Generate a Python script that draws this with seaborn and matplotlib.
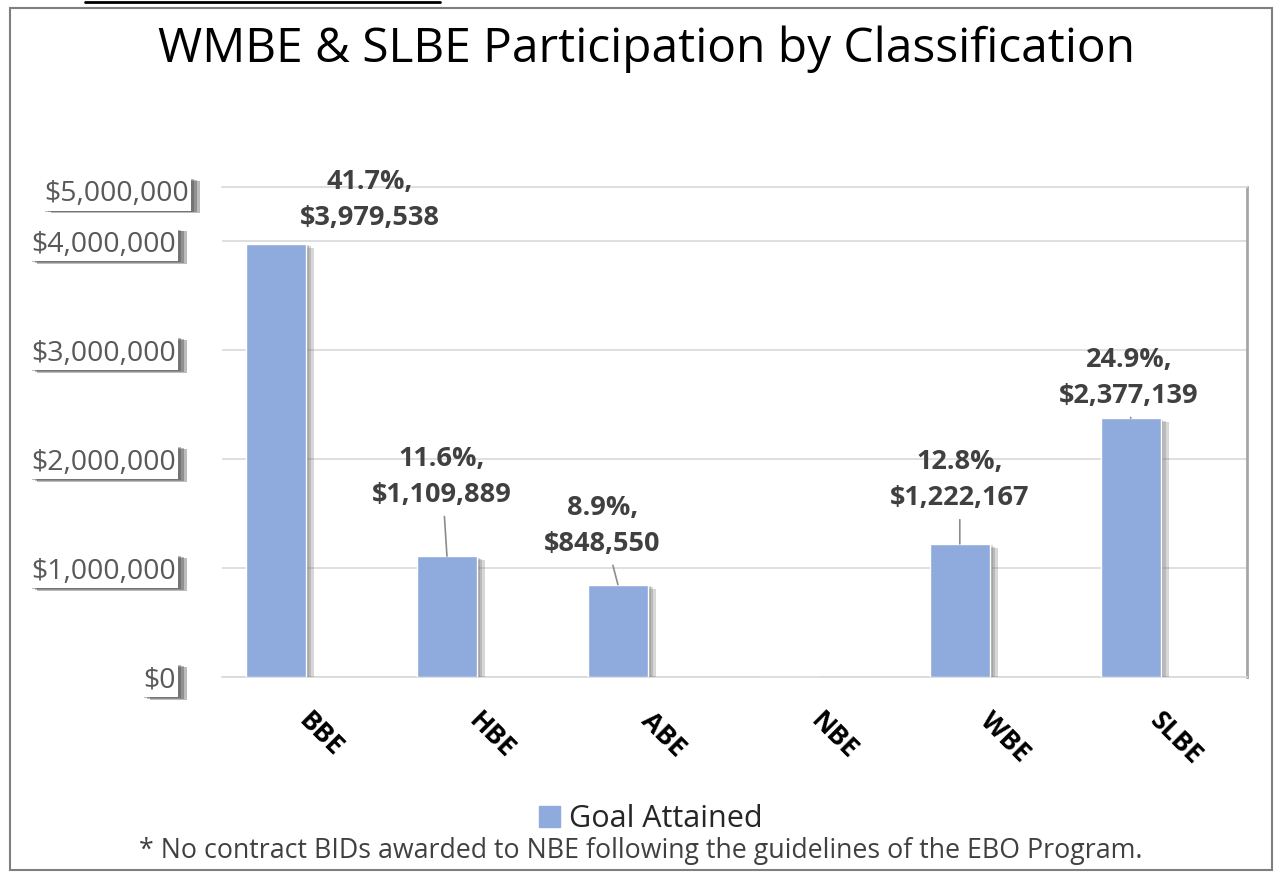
import matplotlib
matplotlib.use("Agg")
import matplotlib.pyplot as plt
import matplotlib.patheffects as pe
import matplotlib.transforms as mtransforms
import seaborn as sns
import pandas as pd
from matplotlib.lines import Line2D
from matplotlib.patches import Rectangle
from matplotlib.ticker import FuncFormatter

categories = ["BBE", "HBE", "ABE", "NBE", "WBE", "SLBE"]
amounts = [3979538, 1109889, 848550, 0, 1222167, 2377139]
shares = ["41.7%", "11.6%", "8.9%", None, "12.8%", "24.9%"]
y_ticks = [0, 1000000, 2000000, 3000000, 4000000]
series_name = "Goal Attained"
title = "WMBE & SLBE Participation by Classification"
footnote = "* No contract BIDs awarded to NBE following the guidelines of the EBO Program."

# label placement (x offset in category units, label centre in $), leader on/off
label_pos = {
    "BBE": (0.55, 4.38e6, False),
    "HBE": (-0.03, 1.84e6, True),
    "ABE": (-0.09, 1.39e6, True),
    "WBE": (0.0, 1.81e6, True),
    "SLBE": (-0.01, 2.75e6, True),
}

sns.set_theme(style="white")
plt.rcParams["font.family"] = ["Open Sans", "DejaVu Sans"]

df = pd.DataFrame({"category": categories, "amount": amounts})

fig = plt.figure(figsize=(12.76, 8.75), dpi=100)
ax = fig.add_axes([222 / 1276, 1 - 677 / 875, (1247 - 222) / 1276, (677 - 187) / 875])

sns.barplot(data=df, x="category", y="amount", color="#8FAADC", width=0.35,
            saturation=1, ax=ax, zorder=3)

bar_shadow = [pe.SimplePatchShadow(offset=(o, -o / 2), shadow_rgbFace="#707070", alpha=0.28)
              for o in (2, 4, 6)] + [pe.Normal()]
box_shadow = [pe.SimplePatchShadow(offset=(o, -o / 3), shadow_rgbFace="#404040", alpha=0.35)
              for o in (2, 4, 6)] + [pe.Normal()]
for bar in ax.patches:
    bar.set_path_effects(bar_shadow)

ax.set_xlim(-0.316, 5.68)
ax.set_ylim(0, 4.5e6)
ax.set_yticks(y_ticks)
ax.yaxis.set_major_formatter(FuncFormatter(lambda v, p: f"${v:,.0f}"))
ax.grid(axis="y", color="#D9D9D9", linewidth=1.2, zorder=0)
ax.set_xlabel("")
ax.set_ylabel("")
ax.tick_params(axis="y", labelsize=20.5, labelcolor="#595959", pad=33, length=0)
ax.tick_params(axis="x", labelsize=19, pad=22, length=0)
shift = mtransforms.ScaledTranslation(45 / 100, 0, fig.dpi_scale_trans)
for t in ax.get_xticklabels():
    t.set_rotation(-45)
    t.set_fontweight("bold")
    t.set_ha("center")
    t.set_color("black")
    t.set_transform(t.get_transform() + shift)

box_style = dict(boxstyle="square,pad=0.08", facecolor="white", edgecolor="none")
ylabels = list(ax.get_yticklabels())
# the top value label sits near the plot top in the source
ylabels.append(ax.text(-0.032, 0.985, "$5,000,000", transform=ax.transAxes, ha="right",
                       va="center", fontsize=20.5, color="#595959"))
for t in ylabels:
    t.set_bbox(box_style)
    t.get_bbox_patch().set_path_effects(box_shadow)

ax.spines["left"].set_visible(False)
ax.spines["bottom"].set_color("#D9D9D9")
ax.spines["top"].set_color("#D9D9D9")
ax.spines["right"].set_color("#A6A6A6")
ax.spines["right"].set_linewidth(2)

for i, (cat, amt, pct) in enumerate(zip(categories, amounts, shares)):
    if pct is None:
        continue
    dx, ly, leader = label_pos[cat]
    arrow = dict(arrowstyle="-", color="#8C8C8C", lw=1.2, shrinkA=4, shrinkB=0) if leader else None
    ax.annotate(f"{pct},\n${amt:,.0f}", xy=(i, amt), xytext=(i + dx, ly),
                textcoords="data", ha="center", va="center", fontsize=19.5,
                fontweight="bold", color="#404040", linespacing=1.5,
                arrowprops=arrow, zorder=5)

fig.suptitle(title, x=0.507, y=1 - 49 / 875, va="center", fontsize=34.5, color="black")

handles = [Rectangle((0, 0), 1, 1, color="#8FAADC")]
fig.legend(handles, [series_name], loc="center", bbox_to_anchor=(0.51, 1 - 819 / 875),
           frameon=False, fontsize=22, handlelength=0.7, handleheight=0.7, handletextpad=0.3)
fig.text(0.502, 1 - 851 / 875, footnote, ha="center", va="center", fontsize=19.3, color="#404040")

fig.add_artist(Rectangle((10 / 1276, 5 / 875), 1262 / 1276, 862 / 875, transform=fig.transFigure,
                         fill=False, edgecolor="#7F7F7F", linewidth=1.5))
fig.add_artist(Line2D([85 / 1276, 440 / 1276], [1 - 2 / 875, 1 - 2 / 875], transform=fig.transFigure,
                      color="black", linewidth=2))

fig.savefig("out.png", dpi=100)
